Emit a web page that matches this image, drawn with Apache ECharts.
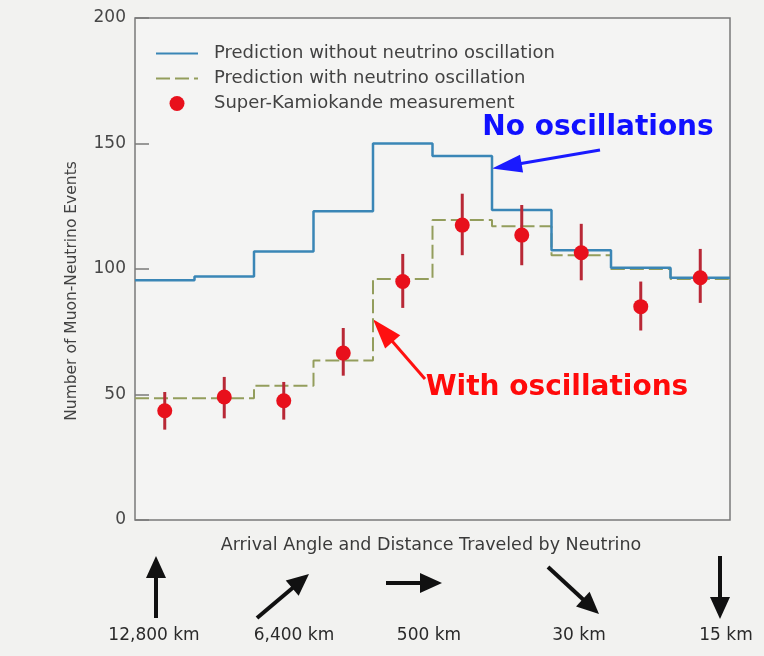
<!DOCTYPE html>
<html>
<head>
<meta charset="utf-8">
<script src="https://cdn.jsdelivr.net/npm/echarts@6/dist/echarts.min.js"></script>
<style>
  html, body { margin: 0; padding: 0; background: #f2f2f0; }
  #chart { width: 764px; height: 656px; }
</style>
</head>
<body>
<div id="chart"></div>
<script>
// Ten zenith-angle bins, upward-going (left) to downward-going (right)
const binEdges = [0, 1, 2, 3, 4, 5, 6, 7, 8, 9, 10];
const binCenters = [0.5, 1.5, 2.5, 3.5, 4.5, 5.5, 6.5, 7.5, 8.5, 9.5];

// Expected muon-neutrino events per bin
const noOscillation = [95.5, 97, 107, 123, 150, 145, 123.5, 107.5, 100.5, 96.5];
const withOscillation = [48.5, 48.5, 53.5, 63.5, 96, 119.5, 117, 105.5, 100, 96];

// Super-Kamiokande measured events with error-bar limits
const measured = [43.5, 49, 47.5, 66.5, 95, 117.5, 113.5, 106.5, 85, 96.5];
const errLow = [36, 40.5, 40, 57.5, 84.5, 105.5, 101.5, 95.5, 75.5, 86.5];
const errHigh = [51, 57, 55, 76.5, 106, 130, 125.5, 118, 95, 108];

const yTicks = [0, 50, 100, 150, 200];

const seriesNames = [
  'Prediction without neutrino oscillation',
  'Prediction with neutrino oscillation',
  'Super-Kamiokande measurement'
];

// Arrival direction and path length shown under the axis
const distanceLabels = ['12,800 km', '6,400 km', '500 km', '30 km', '15 km'];

const textFont = '"DejaVu Sans", Roboto, sans-serif';
const axisGrey = '#7a7a7a';
const inkGrey = '#424242';

// step-histogram outline: one point per bin edge, repeating the last value
function histogram(values) {
  return binEdges.map((e, i) => [e, values[Math.min(i, values.length - 1)]]);
}

const chart = echarts.init(document.getElementById('chart'), null, { renderer: 'canvas' });

chart.setOption({
  backgroundColor: '#f2f2f0',
  animation: false,
  grid: {
    left: 135, right: 34, top: 18, bottom: 136,
    show: true,
    backgroundColor: '#f4f4f3',
    borderColor: axisGrey,
    borderWidth: 1.5
  },
  legend: {
    // the two prediction entries show only their line, no marker
    data: [
      { name: seriesNames[0], itemStyle: { opacity: 0 } },
      { name: seriesNames[1], itemStyle: { opacity: 0 } },
      { name: seriesNames[2] }
    ],
    orient: 'vertical',
    left: 155, top: 44.5, padding: 0,
    itemWidth: 42, itemHeight: 15, itemGap: 7,
    selectedMode: false,
    textStyle: {
      fontFamily: textFont, fontSize: 18, color: inkGrey,
      lineHeight: 15,
      padding: [0, 0, 0, 11]
    }
  },
  xAxis: {
    type: 'value', min: 0, max: 10,
    axisLine: { show: false }, axisTick: { show: false },
    axisLabel: { show: false }, splitLine: { show: false }
  },
  yAxis: {
    type: 'value', min: yTicks[0], max: yTicks[yTicks.length - 1], interval: 50,
    axisLine: { show: false },
    axisTick: { show: true, inside: true, length: 14, lineStyle: { color: axisGrey, width: 1.5 } },
    axisLabel: {
      margin: 9, fontFamily: textFont, fontSize: 17, color: '#474747'
    },
    splitLine: { show: false }
  },
  series: [
    {
      name: seriesNames[0],
      type: 'line', step: 'end', symbol: 'none',
      data: histogram(noOscillation),
      lineStyle: { color: '#3a86b6', width: 2.5 },
      itemStyle: { color: '#3a86b6' },
      z: 3
    },
    {
      name: seriesNames[1],
      type: 'line', step: 'end', symbol: 'none',
      data: histogram(withOscillation),
      lineStyle: { color: '#939d5c', width: 2, type: [14, 5] },
      itemStyle: { color: '#939d5c' },
      z: 2
    },
    {
      name: 'errors',
      type: 'custom',
      data: binCenters.map((c, i) => [c, errLow[i], errHigh[i]]),
      renderItem: function (params, api) {
        const lo = api.coord([api.value(0), api.value(1)]);
        const hi = api.coord([api.value(0), api.value(2)]);
        return {
          type: 'line',
          shape: { x1: lo[0], y1: lo[1], x2: hi[0], y2: hi[1] },
          style: { stroke: '#b82836', lineWidth: 3 }
        };
      },
      z: 4
    },
    {
      name: seriesNames[2],
      type: 'scatter',
      data: binCenters.map((c, i) => [c, measured[i]]),
      symbol: 'circle', symbolSize: 15,
      itemStyle: { color: '#e8101c', opacity: 1 },
      z: 5
    }
  ]
});

// arrow made of a shaft and a filled head
function arrow(from, to, color, shaft, headLen, headHalf) {
  const dx = to[0] - from[0], dy = to[1] - from[1];
  const len = Math.hypot(dx, dy);
  const ux = dx / len, uy = dy / len;
  const bx = to[0] - ux * headLen, by = to[1] - uy * headLen;
  return {
    type: 'group',
    children: [
      {
        type: 'line',
        shape: { x1: from[0], y1: from[1], x2: bx + ux * 2, y2: by + uy * 2 },
        style: { stroke: color, lineWidth: shaft }
      },
      {
        type: 'polygon',
        shape: { points: [to, [bx - uy * headHalf, by + ux * headHalf], [bx + uy * headHalf, by - ux * headHalf]] },
        style: { fill: color }
      }
    ]
  };
}

// direction arrows and distances under the axis title
const directionArrows = [
  { from: [156, 618], to: [156, 556], label: [154, 636] },
  { from: [257, 618], to: [309, 574], label: [294, 636] },
  { from: [386, 583], to: [442, 583], label: [429, 636] },
  { from: [548, 567], to: [599, 614], label: [579, 636] },
  { from: [720, 556], to: [720, 619], label: [726, 636] }
];

const graphics = [
  {
    type: 'text',
    x: 72, y: 291, rotation: Math.PI / 2,
    style: {
      text: 'Number of Muon-Neutrino Events',
      font: '15.5px ' + textFont, fill: inkGrey,
      align: 'center', verticalAlign: 'middle'
    }
  },
  {
    type: 'text',
    x: 431, y: 545,
    style: {
      text: 'Arrival Angle and Distance Traveled by Neutrino',
      font: '17.5px ' + textFont, fill: '#3a3a3a',
      align: 'center', verticalAlign: 'middle'
    }
  }
];

directionArrows.forEach((a, i) => {
  graphics.push(arrow(a.from, a.to, '#111', 4, 22, 10));
  graphics.push({
    type: 'text',
    x: a.label[0], y: a.label[1],
    style: {
      text: distanceLabels[i],
      font: '17px ' + textFont, fill: '#2a2a2a',
      align: 'center', verticalAlign: 'middle'
    }
  });
});

// callouts pointing at the two predictions
const noOscTip = chart.convertToPixel({ gridIndex: 0 }, [6, 140]);
const withOscTip = chart.convertToPixel({ gridIndex: 0 }, [4, 80]);

graphics.push(arrow([600, 150], noOscTip, '#1a1aff', 3, 30, 9));
graphics.push({
  type: 'text', x: 598, y: 128,
  style: {
    text: 'No oscillations',
    font: 'bold 28px "DejaVu Sans", sans-serif', fill: '#1010ff',
    align: 'center', verticalAlign: 'middle'
  }
});
graphics.push(arrow([425, 379], withOscTip, '#ff1010', 3, 30, 10));
graphics.push({
  type: 'text', x: 557, y: 388,
  style: {
    text: 'With oscillations',
    font: 'bold 28px "DejaVu Sans", sans-serif', fill: '#ff0a0a',
    align: 'center', verticalAlign: 'middle'
  }
});

chart.setOption({ graphic: graphics });
</script>
</body>
</html>
